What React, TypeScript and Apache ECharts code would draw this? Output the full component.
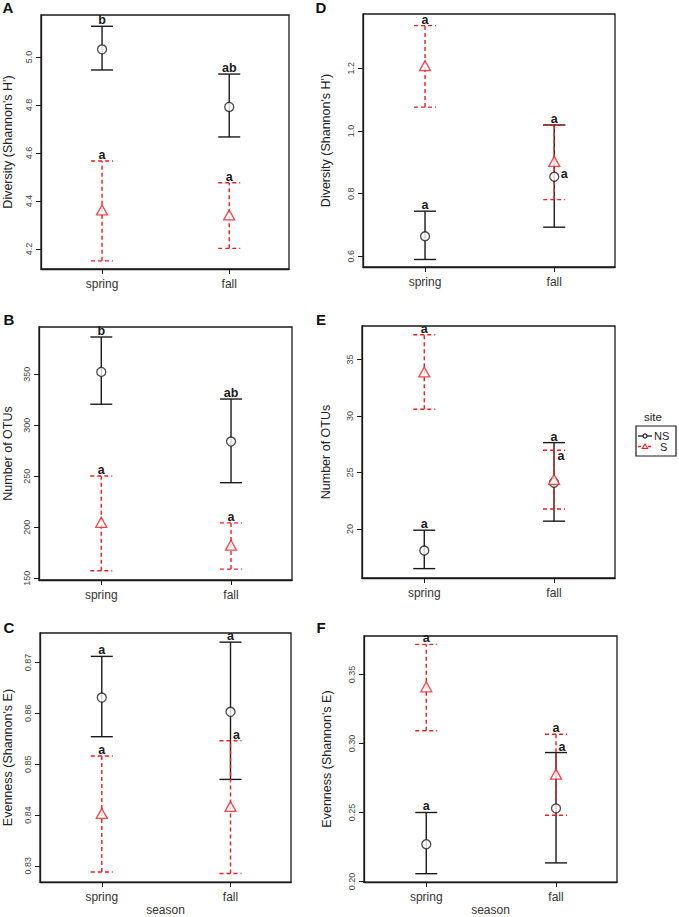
import React, { useEffect, useRef } from "react";
import * as echarts from "echarts";

const seasons = ["spring", "fall"];
const siteNames = ["NS", "S"];

// Panel A – Diversity (Shannon's H'), site 1
const aNSMean = [5.032, 4.792];
const aNSLower = [4.946, 4.667];
const aNSUpper = [5.128, 4.929];
const aSMean = [4.363, 4.342];
const aSLower = [4.151, 4.203];
const aSUpper = [4.567, 4.476];
const aNSLetters = ["b", "ab"];
const aSLetters = ["a", "a"];
const aTicks = [4.2, 4.4, 4.6, 4.8, 5.0];

// Panel B – Number of OTUs
const bNSMean = [352.3, 284.0];
const bNSLower = [320.6, 243.7];
const bNSUpper = [386.5, 325.7];
const bSMean = [204.9, 182.4];
const bSLower = [157.4, 159.0];
const bSUpper = [250.3, 204.3];
const bNSLetters = ["b", "ab"];
const bSLetters = ["a", "a"];
const bTicks = [150, 200, 250, 300, 350];

// Panel C – Evenness (Shannon's E)
const cNSMean = [0.8631, 0.8603];
const cNSLower = [0.8554, 0.847];
const cNSUpper = [0.8712, 0.874];
const cSMean = [0.8403, 0.8417];
const cSLower = [0.8288, 0.8285];
const cSUpper = [0.8516, 0.8546];
const cNSLetters = ["a", "a"];
const cSLetters = ["a", "a"];
const cTicks = [0.83, 0.84, 0.85, 0.86, 0.87];

// Panel D – Diversity (Shannon's H'), site 2
const dNSMean = [0.664, 0.854];
const dNSLower = [0.59, 0.693];
const dNSUpper = [0.744, 1.019];
const dSMean = [1.208, 0.903];
const dSLower = [1.076, 0.781];
const dSUpper = [1.336, 1.019];
const dNSLetters = ["a", "a"];
const dSLetters = ["a", "a"];
const dTicks = [0.6, 0.8, 1.0, 1.2];

// Panel E – Number of OTUs
const eNSMean = [18.1, 24.1];
const eNSLower = [16.5, 20.7];
const eNSUpper = [19.9, 27.65];
const eSMean = [33.9, 24.4];
const eSLower = [30.6, 21.77];
const eSUpper = [37.2, 26.97];
const eNSLetters = ["a", "a"];
const eSLetters = ["a", "a"];
const eTicks = [20, 25, 30, 35];

// Panel F – Evenness (Shannon's E)
const fNSMean = [0.227, 0.253];
const fNSLower = [0.2057, 0.2135];
const fNSUpper = [0.25, 0.2934];
const fSMean = [0.341, 0.2778];
const fSLower = [0.3092, 0.248];
const fSUpper = [0.3717, 0.3067];
const fNSLetters = ["a", "a"];
const fSLetters = ["a", "a"];
const fTicks = [0.2, 0.25, 0.3, 0.35];

const BLACK = "#1a1a1a";
const RED = "#ec1c24";
const FONT = "Liberation Sans, Arial, sans-serif";

type Place = "top" | "topRight" | "belowRight" | "meanRight";

interface Panel {
  tag: string;
  yName: string;
  grid: { left: number; top: number; width: number; height: number };
  ymin: number;
  ymax: number;
  ticks: number[];
  decimals: number;
  nameGap: number;
  xName?: string;
  ns: { mean: number[]; lower: number[]; upper: number[]; letters: string[]; place: Place[] };
  s: { mean: number[]; lower: number[]; upper: number[]; letters: string[]; place: Place[] };
  tagPos: [number, number];
}

const panels: Panel[] = [
  {
    tag: "A", yName: "Diversity (Shannon's H')",
    grid: { left: 36, top: 15, width: 253, height: 254 },
    ymin: 4.117, ymax: 5.175, ticks: aTicks, decimals: 1, nameGap: 27,
    ns: { mean: aNSMean, lower: aNSLower, upper: aNSUpper, letters: aNSLetters, place: ["top", "top"] },
    s: { mean: aSMean, lower: aSLower, upper: aSUpper, letters: aSLetters, place: ["top", "top"] },
    tagPos: [8, 7],
  },
  {
    tag: "D", yName: "Diversity (Shannon's H')",
    grid: { left: 363, top: 14, width: 252, height: 253 },
    ymin: 0.566, ymax: 1.373, ticks: dTicks, decimals: 1, nameGap: 31,
    ns: { mean: dNSMean, lower: dNSLower, upper: dNSUpper, letters: dNSLetters, place: ["top", "meanRight"] },
    s: { mean: dSMean, lower: dSLower, upper: dSUpper, letters: dSLetters, place: ["top", "top"] },
    tagPos: [321, 7],
  },
  {
    tag: "B", yName: "Number of OTUs",
    grid: { left: 37, top: 327, width: 255, height: 253 },
    ymin: 148.3, ymax: 396.3, ticks: bTicks, decimals: 0, nameGap: 25,
    ns: { mean: bNSMean, lower: bNSLower, upper: bNSUpper, letters: bNSLetters, place: ["top", "top"] },
    s: { mean: bSMean, lower: bSLower, upper: bSUpper, letters: bSLetters, place: ["top", "top"] },
    tagPos: [9, 319],
  },
  {
    tag: "E", yName: "Number of OTUs",
    grid: { left: 362, top: 326, width: 253, height: 252 },
    ymin: 15.67, ymax: 37.97, ticks: eTicks, decimals: 0, nameGap: 30,
    ns: { mean: eNSMean, lower: eNSLower, upper: eNSUpper, letters: eNSLetters, place: ["top", "top"] },
    s: { mean: eSMean, lower: eSLower, upper: eSUpper, letters: eSLetters, place: ["top", "belowRight"] },
    tagPos: [321, 319],
  },
  {
    tag: "C", yName: "Evenness (Shannon's E)",
    grid: { left: 36, top: 633, width: 255, height: 253 },
    ymin: 0.8268, ymax: 0.8758, ticks: cTicks, decimals: 2, nameGap: 26, xName: "season",
    ns: { mean: cNSMean, lower: cNSLower, upper: cNSUpper, letters: cNSLetters, place: ["top", "top"] },
    s: { mean: cSMean, lower: cSLower, upper: cSUpper, letters: cSLetters, place: ["top", "topRight"] },
    tagPos: [9, 627],
  },
  {
    tag: "F", yName: "Evenness (Shannon's E)",
    grid: { left: 364, top: 636, width: 253, height: 251 },
    ymin: 0.1996, ymax: 0.3778, ticks: fTicks, decimals: 2, nameGap: 31, xName: "season",
    ns: { mean: fNSMean, lower: fNSLower, upper: fNSUpper, letters: fNSLetters, place: ["top", "topRight"] },
    s: { mean: fSMean, lower: fSLower, upper: fSUpper, letters: fSLetters, place: ["top", "top"] },
    tagPos: [321, 627],
  },
];

function errorSeries(gi: number, grp: Panel["ns"], color: string, dashed: boolean) {
  const data = seasons.map((_, i) => [i + 1, grp.lower[i], grp.upper[i], grp.mean[i]]);
  return {
    type: "custom",
    xAxisIndex: gi,
    yAxisIndex: gi,
    data,
    z: 2,
    renderItem: (params: any, api: any) => {
      const x = api.value(0);
      const lo = api.coord([x, api.value(1)]);
      const hi = api.coord([x, api.value(2)]);
      const mid = api.coord([x, api.value(3)]);
      const hw = 11;
      const style: any = { stroke: color, lineWidth: 1.4, lineDash: dashed ? [4, 3] : null, fill: null };
      const idx = params.dataIndex;
      const place = grp.place[idx];
      let tx = hi[0], ty = hi[1] - 6;
      if (place === "topRight") { tx = hi[0] + 6; ty = hi[1] - 6; }
      if (place === "belowRight") { tx = hi[0] + 7; ty = hi[1] + 6; }
      if (place === "meanRight") { tx = mid[0] + 10; ty = mid[1] - 3; }
      return {
        type: "group",
        children: [
          { type: "line", shape: { x1: lo[0], y1: lo[1], x2: hi[0], y2: hi[1] }, style },
          { type: "line", shape: { x1: lo[0] - hw, y1: lo[1], x2: lo[0] + hw, y2: lo[1] }, style },
          { type: "line", shape: { x1: hi[0] - hw, y1: hi[1], x2: hi[0] + hw, y2: hi[1] }, style },
          {
            type: "text", x: tx, y: ty, z2: 10,
            style: {
              text: grp.letters[idx], fill: BLACK, font: `bold 12.5px ${FONT}`,
              align: "center", verticalAlign: "middle",
            },
          },
        ],
      };
    },
  };
}

function pointSeries(gi: number, grp: Panel["ns"], color: string, symbol: string, size: any, name: string) {
  return {
    type: "scatter",
    name,
    xAxisIndex: gi,
    yAxisIndex: gi,
    z: 5,
    symbol,
    symbolSize: size,
    data: seasons.map((_, i) => [i + 1, grp.mean[i]]),
    itemStyle: { color: "#ffffff", borderColor: color, borderWidth: 1.3 },
  };
}

function buildOption() {
  const grid: any[] = [];
  const xAxis: any[] = [];
  const yAxis: any[] = [];
  const series: any[] = [];
  const graphic: any[] = [];
  panels.forEach((p, gi) => {
    grid.push({ ...p.grid, show: true, borderColor: BLACK, borderWidth: 1.3, backgroundColor: "transparent", containLabel: false });
    xAxis.push({
      type: "value", gridIndex: gi, min: 0.52, max: 2.47,
      axisLine: { show: true, onZero: false, lineStyle: { color: BLACK, width: 1.3 } },
      axisTick: { show: true, customValues: [1, 2], length: 5, lineStyle: { color: BLACK } },
      axisLabel: {
        show: true, customValues: [1, 2], margin: 9, fontSize: 12, color: "#333",
        fontFamily: FONT, formatter: (v: number) => seasons[Math.round(v) - 1] ?? "",
      },
      splitLine: { show: false },
      name: p.xName ?? "", nameLocation: "middle", nameGap: 19,
      nameTextStyle: { fontSize: 12, color: "#333", fontFamily: FONT },
    });
    yAxis.push({
      type: "value", gridIndex: gi, min: p.ymin, max: p.ymax,
      axisLine: { show: true, onZero: false, lineStyle: { color: BLACK, width: 1.3 } },
      axisTick: { show: true, customValues: p.ticks, length: 5, lineStyle: { color: BLACK } },
      axisLabel: {
        show: true, customValues: p.ticks, rotate: 90, margin: 8, fontSize: 9, color: "#444",
        fontFamily: FONT, formatter: (v: number) => v.toFixed(p.decimals),
      },
      splitLine: { show: false },
      name: p.yName, nameLocation: "middle", nameGap: p.nameGap, nameRotate: 90,
      nameTextStyle: { fontSize: 12.5, color: "#222", fontFamily: FONT },
    });
    series.push(errorSeries(gi, p.ns, BLACK, false));
    series.push(errorSeries(gi, p.s, RED, true));
    series.push(pointSeries(gi, p.ns, BLACK, "circle", 9, siteNames[0]));
    series.push(pointSeries(gi, p.s, RED, "triangle", [11, 10], siteNames[1]));
    graphic.push({
      type: "text", x: p.tagPos[0], y: p.tagPos[1],
      style: { text: p.tag, font: `bold 15px ${FONT}`, fill: "#111", align: "center", verticalAlign: "middle" },
    });
  });

  // legend
  graphic.push(
    { type: "text", x: 653, y: 417, style: { text: "site", font: `11.5px ${FONT}`, fill: "#222", align: "center", verticalAlign: "middle" } },
    { type: "rect", shape: { x: 636, y: 426, width: 40, height: 30 }, style: { fill: "#fff", stroke: BLACK, lineWidth: 1.2 } },
    { type: "line", shape: { x1: 638, y1: 436, x2: 652, y2: 436 }, style: { stroke: BLACK, lineWidth: 1.3 } },
    { type: "circle", shape: { cx: 645, cy: 436, r: 2 }, style: { fill: "#fff", stroke: BLACK, lineWidth: 1.2 } },
    { type: "text", x: 654, y: 435.5, style: { text: siteNames[0], font: `11px ${FONT}`, fill: "#222", align: "left", verticalAlign: "middle" } },
    { type: "line", shape: { x1: 638, y1: 446.5, x2: 652, y2: 446.5 }, style: { stroke: RED, lineWidth: 1.3, lineDash: [3, 2] } },
    { type: "polygon", shape: { points: [[645, 444], [642.3, 448.5], [647.7, 448.5]] }, style: { fill: "#fff", stroke: RED, lineWidth: 1.1 } },
    { type: "text", x: 660, y: 447, style: { text: siteNames[1], font: `11px ${FONT}`, fill: "#222", align: "left", verticalAlign: "middle" } },
  );

  return { animation: false, backgroundColor: "#fff", grid, xAxis, yAxis, series, graphic };
}

export default function App() {
  const ref = useRef<HTMLDivElement>(null);
  useEffect(() => {
    if (!ref.current) return;
    const chart = echarts.init(ref.current, null, { renderer: "svg" });
    chart.setOption(buildOption() as any);
    return () => chart.dispose();
  }, []);
  return (
    <div
      ref={ref}
      style={{ position: "fixed", left: 0, top: 0, width: 679, height: 917, background: "#fff" }}
    />
  );
}
